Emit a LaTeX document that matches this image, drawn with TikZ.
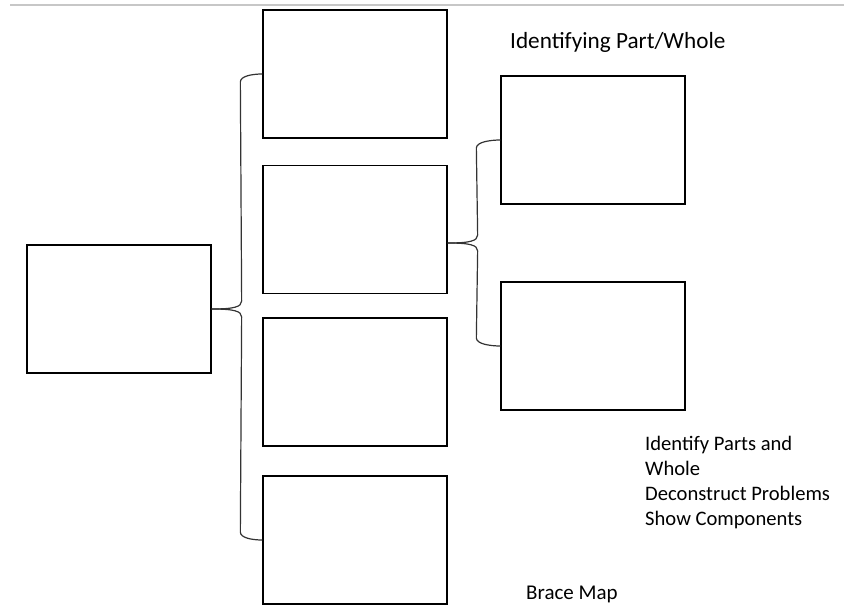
\documentclass[tikz,border=0pt]{standalone}
\usepackage{fontspec}
\setmainfont{Carlito}
\usetikzlibrary{calc}

\tikzset{
  cell/.style={draw, line width=1.3pt, minimum width=184pt, minimum height=128pt, inner sep=0pt},
  brace/.style={line width=1.2pt, black!80},
  title/.style={anchor=west, inner sep=0pt},
}

\begin{document}
\begin{tikzpicture}[x=1pt, y=-1pt]
  \useasboundingbox (0,0) rectangle (844,607);

  % Linea superior
  \draw[black!22, line width=2pt] (10,5) -- (844,5);

  % Cajas
  \node[cell] (whole) at (119,309) {};
  \node[cell] (p1) at (355,74) {};
  \node[cell] (p2) at (355,229.5) {};
  \node[cell] (p3) at (355,382) {};
  \node[cell] (p4) at (355,540) {};
  \node[cell] (r1) at (593,140) {};
  \node[cell] (r2) at (593,346) {};

  % Llave grande
  \draw[brace] (whole.east) .. controls +(22,0) and +(0,6) .. ++(30,-8)
    -- ($(p1.west)+(-22,8)$) .. controls +(0,-6) and +(-10,0) .. (p1.west);
  \draw[brace] (whole.east) .. controls +(22,0) and +(0,-6) .. ++(30,8)
    -- ($(p4.west)+(-22,-8)$) .. controls +(0,6) and +(-10,0) .. (p4.west);

  % Llave chica
  \coordinate (m2) at ($(r1.west)!0.5!(r2.west)$);
  \coordinate (t2) at (p2.east |- m2);
  \draw[brace] (t2) .. controls +(22,0) and +(0,6) .. ++(30,-8)
    -- ($(r1.west)+(-24,8)$) .. controls +(0,-6) and +(-10,0) .. (r1.west);
  \draw[brace] (t2) .. controls +(22,0) and +(0,-6) .. ++(30,8)
    -- ($(r2.west)+(-24,-8)$) .. controls +(0,6) and +(-10,0) .. (r2.west);

  % Textos
  \node[title, font=\fontsize{23.2}{27}\selectfont] (head) at (510,42) {Identifying Part/Whole};
  \node[title, font=\fontsize{21}{25}\selectfont] (foot) at (526,594) {Brace Map};
  \node[anchor=north west, inner sep=0pt, align=left,
        font=\fontsize{20.6}{25}\selectfont] (notes) at (645,436)
    {Identify Parts and\\Whole\\Deconstruct Problems\\Show Components};

\end{tikzpicture}
\end{document}
